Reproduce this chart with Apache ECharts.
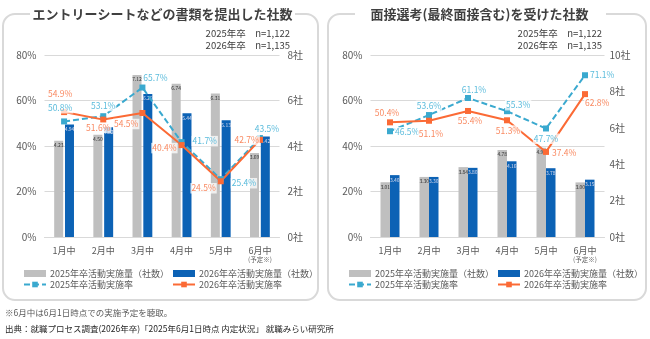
<!DOCTYPE html>
<html><head><meta charset="utf-8">
<script src="https://cdn.jsdelivr.net/npm/echarts@6/dist/echarts.min.js"></script>
<style>html,body{margin:0;padding:0;background:#fff}#c{width:650px;height:339px}</style>
</head><body><div id="c"></div>
<script>
// ---- data ----
const categories = ['1月中','2月中','3月中','4月中','5月中','6月中'];
const esBar2025 = [4.23,4.50,7.12,6.74,6.31,3.69];
const esBar2026 = [4.94,4.82,6.29,5.44,5.13,4.42];
const esRate2025 = [50.8,53.1,65.7,41.7,25.4,43.5];
const esRate2026 = [54.9,51.6,54.5,40.4,24.5,42.7];
const ivBar2025 = [3.01,3.30,3.84,4.78,4.90,3.00];
const ivBar2026 = [3.40,3.30,3.80,4.16,3.78,3.15];
const ivRate2025 = [46.5,53.6,61.1,55.3,47.7,71.1];
const ivRate2026 = [50.4,51.1,55.4,51.3,37.4,62.8];
const names = ['2025年卒活動実施量（社数）','2026年卒活動実施量（社数）','2025年卒活動実施率','2026年卒活動実施率'];
const titles = ['エントリーシートなどの書類を提出した社数','面接選考(最終面接含む)を受けた社数'];
const nTexts = ['2025年卒　n=1,122','2026年卒　n=1,135'];
const footnote = '※6月中は6月1日時点での実施予定を聴取。';
const source = '出典：就職プロセス調査(2026年卒)「2025年6月1日時点 内定状況」 就職みらい研究所';

// ---- label placement (style only) ----
const esPos2025 = [['top',[-4,0]],['top',[0,3]],['top',[13,3]],['right',[2,-1]],['right',[2,4]],['top',[7,4]]];
const esPos2026 = [['top',[-4,-5]],['bottom',[-5,-5]],['left',[5,11]],['left',[4,3]],['left',[4,7]],['left',[8,0]]];
const ivPos2025 = [['right',[-4,1]],['top',[0,4]],['top',[6,5]],['right',[-10,-6]],['bottom',[0,-3]],['right',[-4,0]]];
const ivPos2026 = [['top',[-3,4]],['bottom',[2,0]],['bottom',[2,-3]],['bottom',[1,-3]],['right',[-3,1]],['right',[-9,9]]];

const FONT = "'Noto Sans CJK JP','Noto Sans',sans-serif";
const GRAY = '#bfbfbf', BLUE = '#0c62b5', LBLUE = '#3aa9cf', ORANGE = '#fb6a35';
const chart = echarts.init(document.getElementById('c'), null, {renderer:'canvas'});

function barSeries(name, data, xi, yi, color, labelColor, gap, width){
  return {name, type:'bar', xAxisIndex:xi, yAxisIndex:yi, data, barWidth:width, barGap:gap,
    itemStyle:{color}, z:2,
    label:{show:true, position:'insideTop', distance:2, fontSize:5, color:labelColor, fontFamily:FONT,
      formatter:p=>p.value.toFixed(2)}};
}
function rateSeries(name, data, pos, xi, yi, color, labelColor, dashed){
  return {name, type:'line', xAxisIndex:xi, yAxisIndex:yi, z:5,
    symbol:'rect', symbolSize:6, itemStyle:{color},
    lineStyle:{color, width:2, type: dashed ? [6,3] : 'solid'},
    data: data.map((v,i)=>({value:v, label:{position:pos[i][0], offset:pos[i][1]}})),
    label:{show:true, fontSize:8.5, color:labelColor, fontFamily:FONT, distance:5,
      backgroundColor:'rgba(255,255,255,0.75)', padding:[1,1],
      formatter:p=>p.value.toFixed(1)+'%'}};
}
function xAxis(gi){
  return {type:'category', gridIndex:gi, data:categories,
    axisLine:{lineStyle:{color:'#d9d9d9'}}, axisTick:{show:false},
    axisLabel:{interval:0, color:'#595959', fontSize:9, fontFamily:FONT, margin:8, lineHeight:11,
      formatter:v=> v==='6月中' ? v+'\n{s|(予定※)}' : v,
      rich:{s:{fontSize:6.5, lineHeight:8, color:'#595959', fontFamily:FONT}}}};
}
function yPct(gi){
  return {type:'value', gridIndex:gi, min:0, max:80, interval:20, position:'left',
    axisLabel:{formatter:'{value}%', color:'#595959', fontSize:10, fontFamily:FONT, margin:8},
    splitLine:{lineStyle:{color:'#d9d9d9'}}, axisLine:{show:false}, axisTick:{show:false}};
}
function yCnt(gi, max, margin){
  return {type:'value', gridIndex:gi, min:0, max, interval:2, position:'right',
    axisLabel:{formatter:'{value}社', color:'#595959', fontSize:10, fontFamily:FONT, margin},
    splitLine:{show:false}, axisLine:{show:false}, axisTick:{show:false}};
}
function legendCol(left, items){
  return {left, top:264, orient:'vertical', itemGap:2, itemWidth:22, itemHeight:7,
    selectedMode:false, textStyle:{fontSize:9, color:'#595959', fontFamily:FONT, padding:[0,0,0,-1]},
    data:items};
}
function panelGraphics(x, w, title, cx, gap0, gap1, nRight){
  return [
    {type:'rect', shape:{x, y:14, width:w, height:286, r:12}, style:{fill:'none', stroke:'#d9d9d9', lineWidth:2}, z:-1},
    {type:'rect', shape:{x:gap0, y:6, width:gap1-gap0, height:16}, style:{fill:'#fff'}, z:0},
    {type:'text', x:cx, y:14, style:{text:title, font:'bold 13px '+FONT, fill:'#404040', align:'center', verticalAlign:'middle'}, z:1},
    {type:'text', x:nRight, y:33, style:{text:nTexts[0], font:'9.5px '+FONT, fill:'#404040', align:'right', verticalAlign:'middle'}},
    {type:'text', x:nRight, y:45, style:{text:nTexts[1], font:'9.5px '+FONT, fill:'#404040', align:'right', verticalAlign:'middle'}}
  ];
}

chart.setOption({
  animation:false,
  textStyle:{fontFamily:FONT},
  grid:[
    {left:44.5, right:650-279.5, top:55, bottom:339-237},
    {left:370.5, right:650-604.5, top:55, bottom:339-237}
  ],
  xAxis:[xAxis(0), xAxis(1)],
  yAxis:[yPct(0), yCnt(0,8,8), yPct(1), yCnt(1,10,5)],
  legend:[
    legendCol(18, [{name:names[0], icon:'rect'}, {name:names[2]}]),
    legendCol(167, [{name:names[1], icon:'rect'}, {name:names[3]}]),
    legendCol(343, [{name:names[0], icon:'rect'}, {name:names[2]}]),
    legendCol(492, [{name:names[1], icon:'rect'}, {name:names[3]}])
  ],
  series:[
    barSeries(names[0], esBar2025, 0, 1, GRAY, '#333', '20%', 9),
    barSeries(names[1], esBar2026, 0, 1, BLUE, '#dde', '20%', 9),
    rateSeries(names[2], esRate2025, esPos2025, 0, 0, LBLUE, '#5cbcdc', true),
    rateSeries(names[3], esRate2026, esPos2026, 0, 0, ORANGE, '#f98a62', false),
    barSeries(names[0], ivBar2025, 1, 3, GRAY, '#333', '0%', 9.5),
    barSeries(names[1], ivBar2026, 1, 3, BLUE, '#dde', '0%', 9.5),
    rateSeries(names[2], ivRate2025, ivPos2025, 1, 2, LBLUE, '#5cbcdc', true),
    rateSeries(names[3], ivRate2026, ivPos2026, 1, 2, ORANGE, '#f98a62', false)
  ],
  graphic:[
    ...panelGraphics(3, 315, titles[0], 162.5, 30, 295, 290),
    ...panelGraphics(328, 318, titles[1], 479.5, 355, 606, 602),
    {type:'text', x:5, y:313, style:{text:footnote, font:'8.5px '+FONT, fill:'#595959', verticalAlign:'middle'}},
    {type:'text', x:5, y:329, style:{text:source, font:'8.5px '+FONT, fill:'#262626', verticalAlign:'middle'}}
  ]
});
</script>
</body></html>
